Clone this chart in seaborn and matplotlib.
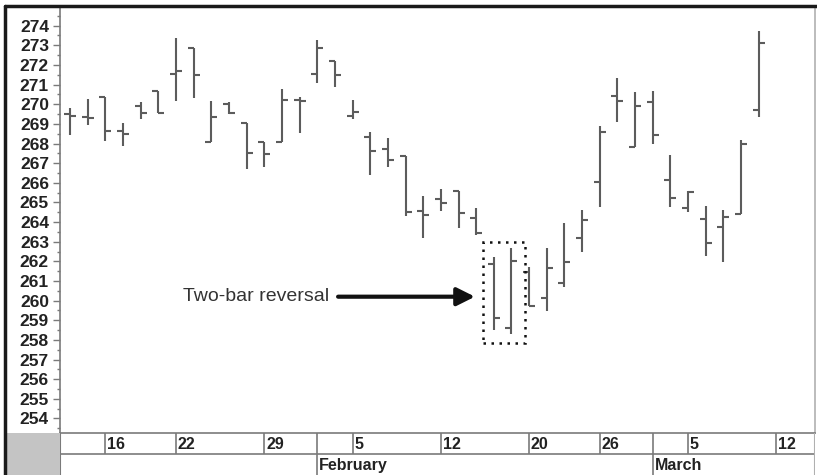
import matplotlib

matplotlib.use("Agg")
import matplotlib.pyplot as plt
import pandas as pd
import seaborn as sns
from matplotlib.lines import Line2D
from matplotlib.patches import Rectangle
from matplotlib.ticker import MultipleLocator


# trading calendar (NYSE closed on MLK day and Presidents' day)
HOLIDAYS = ["2007-01-15", "2007-02-19"]
START, END = "2007-01-11", "2007-03-14"

# daily bars
opens = [269.49, 269.37, 270.38, 268.64, 269.91, 270.68, 271.54, 272.88, 268.09, 270.00,
         269.06, 268.09, 268.09, 270.20, 271.54, 272.20, 269.40, 268.35, 267.72, 267.38,
         264.57, 265.16, 265.60, 264.22, 261.85, 258.62, 261.44, 260.12, 260.91, 263.18,
         266.06, 270.40, 267.84, 270.13, 266.16, 264.72, 264.14, 263.77, 264.41, 269.71]
highs = [269.79, 270.28, 270.38, 269.03, 270.12, 270.68, 273.36, 272.88, 270.17, 270.13,
         269.06, 268.09, 270.76, 270.38, 273.27, 272.20, 270.22, 268.57, 268.27, 267.38,
         265.34, 265.67, 265.60, 264.73, 262.21, 262.67, 261.73, 262.67, 263.97, 264.62,
         268.91, 271.36, 270.60, 270.68, 267.43, 265.56, 264.84, 264.62, 268.18, 273.73]
lows = [268.43, 268.94, 268.14, 267.89, 269.25, 269.57, 270.18, 270.30, 268.09, 269.48,
        266.69, 266.82, 268.09, 268.55, 271.07, 270.89, 269.23, 266.40, 266.82, 264.31,
        263.18, 264.58, 263.68, 263.34, 258.51, 258.30, 259.73, 259.47, 260.68, 262.49,
        264.75, 269.11, 267.84, 267.99, 264.77, 264.53, 262.27, 261.98, 264.41, 269.34]
closes = [269.42, 269.32, 268.64, 268.47, 269.54, 269.57, 271.68, 271.47, 269.34, 269.55,
          267.50, 267.45, 270.22, 270.15, 272.88, 271.49, 269.62, 267.64, 267.16, 264.53,
          264.36, 264.96, 264.48, 263.43, 259.10, 262.03, 259.73, 261.65, 261.95, 264.11,
          268.60, 270.18, 269.90, 268.43, 265.23, 265.55, 262.95, 264.24, 267.96, 273.13]

week_starts = ["2007-01-16", "2007-01-22", "2007-01-29", "2007-02-05", "2007-02-12",
               "2007-02-20", "2007-02-26", "2007-03-05", "2007-03-12"]
month_starts = ["2007-02-01", "2007-03-01"]
month_names = ["February", "March"]
y_ticks = list(range(254, 275))

BAR = "#5c5c5c"
GRID = "#7a7a7a"
INK = "#222222"

calendar = pd.bdate_range(START, END, freq="C", holidays=HOLIDAYS)
bars = pd.DataFrame({"date": calendar[:len(opens)], "open": opens, "high": highs,
                     "low": lows, "close": closes})
bars["x"] = calendar.get_indexer(bars["date"])
week_x = calendar.get_indexer(pd.to_datetime(week_starts))
month_x = calendar.get_indexer(pd.to_datetime(month_starts))

sns.set_theme(style="white")
plt.rcParams["font.family"] = ["Liberation Sans", "DejaVu Sans"]

W, H = 817, 475
fig = plt.figure(figsize=(W / 100, H / 100), dpi=100)


def box(left, top, right, bottom):
    return [left / W, 1 - bottom / H, (right - left) / W, (bottom - top) / H]


ax = fig.add_axes(box(60, 7, 815, 433))
ax_dates = fig.add_axes(box(60, 433, 815, 475), sharex=ax)

# OHLC bars: high-low line, open tick left, close tick right
ax.vlines(bars["x"], bars["low"], bars["high"], color=BAR, lw=1.5)
sns.scatterplot(data=bars, x="x", y="open", marker=0, s=20, color=BAR,
                linewidth=1.5, ax=ax, legend=False)
sns.scatterplot(data=bars, x="x", y="close", marker=1, s=20, color=BAR,
                linewidth=1.5, ax=ax, legend=False)

ax.set_xlim(-0.57, 42.19)
ax.set_ylim(253.26, 274.95)
ax.set(xlabel="", ylabel="")
ax.set_yticks(y_ticks, labels=[str(v) for v in y_ticks], fontweight="bold", color=INK)
ax.yaxis.set_minor_locator(MultipleLocator(0.5))
ax.tick_params(axis="y", which="major", left=True, length=5, width=1, color=GRID,
               labelsize=12.5, pad=3)
ax.tick_params(axis="y", which="minor", left=True, length=2.5, width=1, color=GRID)
ax.tick_params(axis="x", bottom=False, labelbottom=False)
ax.spines["top"].set_visible(False)
for side in ("left", "bottom", "right"):
    ax.spines[side].set_color(GRID)
    ax.spines[side].set_linewidth(1.2)
ax.spines["right"].set_color("#b0b0b0")

# annotation
ax.annotate("", xy=(22.93, 260.2), xytext=(15.18, 260.2),
            arrowprops=dict(arrowstyle="-|>,head_length=0.9,head_width=0.45",
                            lw=3, color="#111111", shrinkA=0, shrinkB=0))
ax.text(6.4, 260.2, "Two-bar reversal", fontsize=14, color="#333333",
        ha="left", va="center")
ax.add_patch(Rectangle((23.4, 257.83), 2.36, 5.17, fill=False, color="#111111",
                       lw=1.8, ls=(0, (1, 2.2))))

# date rows
ax_dates.set_ylim(0, 2)
ax_dates.axis("off")
ax_dates.axhline(1, color=GRID, lw=1.2)
ax_dates.axvline(ax.get_xlim()[0], color=GRID, lw=1.5)
ax_dates.axvline(ax.get_xlim()[1], color="#b0b0b0", lw=1.5)
ax_dates.vlines(week_x, 1, 2, color=GRID, lw=1.2)
ax_dates.vlines(month_x, 0, 2, color=GRID, lw=1.2)
for x, d in zip(week_x, week_starts):
    ax_dates.text(x + 0.1, 1.45, str(pd.Timestamp(d).day), fontsize=11.5,
                  fontweight="bold", color=INK, ha="left", va="center")
for x, name in zip(month_x, month_names):
    ax_dates.text(x + 0.1, 0.45, name, fontsize=11.5, fontweight="bold",
                  color=INK, ha="left", va="center")

# outer frame and grey corner
fig.add_artist(Rectangle((5 / W, 0), 55 / W, 42 / H, transform=fig.transFigure,
                         color="#c4c4c4", lw=0))
fig.add_artist(Line2D([5 / W, 5 / W], [0, 1 - 6 / H], transform=fig.transFigure,
                      color="#1a1a1a", lw=2.5))
fig.add_artist(Line2D([5 / W, 1], [1 - 6 / H, 1 - 6 / H], transform=fig.transFigure,
                      color="#1a1a1a", lw=2.5))

fig.savefig("out.png", dpi=100)
